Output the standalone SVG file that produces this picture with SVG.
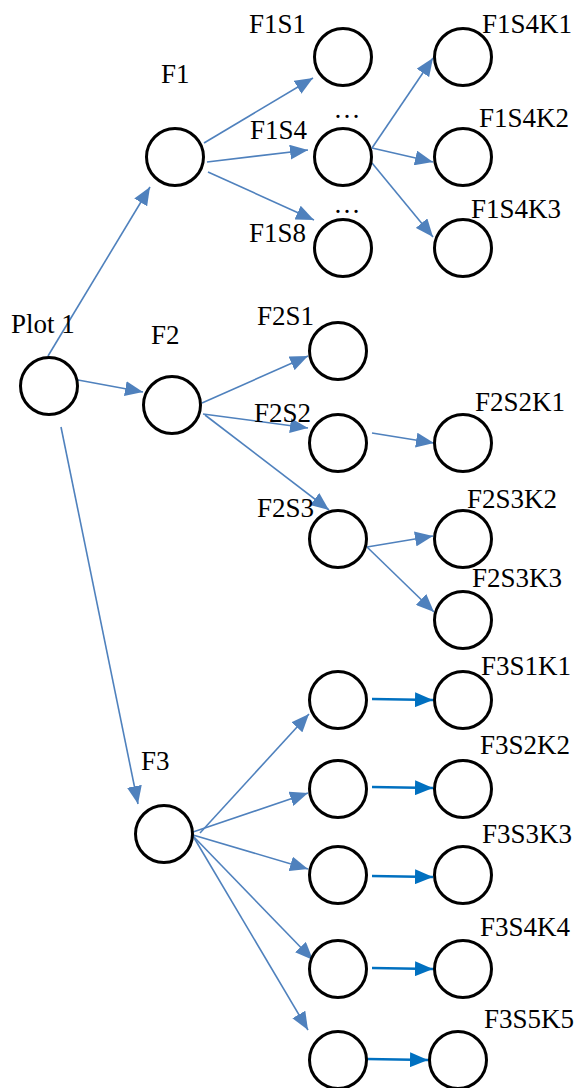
<svg xmlns="http://www.w3.org/2000/svg" width="579" height="1088" viewBox="0 0 579 1088" font-family="Liberation Serif, Times New Roman, serif">
<style>
.n{fill:#fff;stroke:#000;stroke-width:3}
.t{font-size:27px;fill:#000}
.c{stroke:#4f81bd;stroke-width:1.6;fill:none;marker-end:url(#a)}
.d{stroke:#0070c0;stroke-width:2.6;fill:none;marker-end:url(#b)}
</style>
<defs>
<marker id="a" markerUnits="userSpaceOnUse" markerWidth="19" markerHeight="15" refX="18" refY="7.5" orient="auto"><path d="M0,0 L18,7.5 L0,15 z" fill="#4f81bd"/></marker>
<marker id="b" markerUnits="userSpaceOnUse" markerWidth="19" markerHeight="15" refX="18" refY="7.5" orient="auto"><path d="M0,0 L18,7.5 L0,15 z" fill="#0070c0"/></marker>
</defs>
<rect width="579" height="1088" fill="#fff"/>
<g id="connectors">
<line class="c" x1="48" y1="356" x2="150" y2="187"/>
<line class="c" x1="78" y1="380" x2="143" y2="392"/>
<line class="c" x1="61" y1="427" x2="138" y2="804"/>
<line class="c" x1="204" y1="143" x2="313" y2="78"/>
<line class="c" x1="207" y1="162" x2="308" y2="150"/>
<line class="c" x1="208" y1="172" x2="314" y2="220"/>
<line class="c" x1="372" y1="148" x2="433" y2="58"/>
<line class="c" x1="372" y1="148" x2="433" y2="162"/>
<line class="c" x1="372" y1="163" x2="433" y2="237"/>
<line class="c" x1="202" y1="403" x2="308" y2="356"/>
<line class="c" x1="203" y1="414" x2="308" y2="428"/>
<line class="c" x1="205" y1="415" x2="329" y2="510"/>
<line class="c" x1="372" y1="433" x2="434" y2="443"/>
<line class="c" x1="367" y1="547" x2="433" y2="536"/>
<line class="c" x1="367" y1="547" x2="434" y2="612"/>
<line class="c" x1="200" y1="833" x2="309" y2="714"/>
<line class="c" x1="193" y1="832" x2="308" y2="793"/>
<line class="c" x1="193" y1="835" x2="308" y2="869"/>
<line class="c" x1="193" y1="836" x2="313" y2="960"/>
<line class="c" x1="193" y1="836" x2="308" y2="1030"/>
<line class="d" x1="372" y1="699" x2="433" y2="700"/>
<line class="d" x1="372" y1="787" x2="433" y2="788"/>
<line class="d" x1="372" y1="876" x2="433" y2="877"/>
<line class="d" x1="372" y1="968" x2="433" y2="969"/>
<line class="d" x1="367" y1="1059" x2="428" y2="1060"/>
</g>
<g id="plot1"><circle class="n" cx="49" cy="386" r="28.5"/><text class="t" x="11" y="333">Plot 1</text></g>
<g id="f1"><circle class="n" cx="175" cy="157" r="28.5"/><text class="t" x="161" y="83">F1</text></g>
<g id="f2"><circle class="n" cx="172" cy="405" r="28.5"/><text class="t" x="151" y="344">F2</text></g>
<g id="f3"><circle class="n" cx="164" cy="834" r="28.5"/><text class="t" x="141" y="770">F3</text></g>
<g id="f1s1"><circle class="n" cx="343" cy="57" r="28.5"/><text class="t" x="249" y="33">F1S1</text></g>
<g id="f1s4"><circle class="n" cx="343" cy="157" r="28.5"/><text class="t" x="250" y="139">F1S4</text><text class="t" x="347" y="118" text-anchor="middle">…</text></g>
<g id="f1s8"><circle class="n" cx="343" cy="248" r="28.5"/><text class="t" x="249" y="242">F1S8</text><text class="t" x="347" y="213" text-anchor="middle">…</text></g>
<g id="f1s4k1"><circle class="n" cx="463" cy="57" r="28.5"/><text class="t" x="482" y="33">F1S4K1</text></g>
<g id="f1s4k2"><circle class="n" cx="463" cy="157" r="28.5"/><text class="t" x="479" y="127">F1S4K2</text></g>
<g id="f1s4k3"><circle class="n" cx="463" cy="248" r="28.5"/><text class="t" x="471" y="218">F1S4K3</text></g>
<g id="f2s1"><circle class="n" cx="338" cy="351" r="28.5"/><text class="t" x="257" y="325">F2S1</text></g>
<g id="f2s2"><circle class="n" cx="338" cy="443" r="28.5"/><text class="t" x="254" y="422">F2S2</text></g>
<g id="f2s3"><circle class="n" cx="338" cy="539" r="28.5"/><text class="t" x="257" y="517">F2S3</text></g>
<g id="f2s2k1"><circle class="n" cx="463" cy="443" r="28.5"/><text class="t" x="475" y="411">F2S2K1</text></g>
<g id="f2s3k2"><circle class="n" cx="463" cy="539" r="28.5"/><text class="t" x="467" y="508">F2S3K2</text></g>
<g id="f2s3k3"><circle class="n" cx="463" cy="620" r="28.5"/><text class="t" x="472" y="587">F2S3K3</text></g>
<g id="f3s1"><circle class="n" cx="338" cy="700" r="28.5"/></g>
<g id="f3s2"><circle class="n" cx="338" cy="789" r="28.5"/></g>
<g id="f3s3"><circle class="n" cx="338" cy="875" r="28.5"/></g>
<g id="f3s4"><circle class="n" cx="338" cy="969" r="28.5"/></g>
<g id="f3s5"><circle class="n" cx="338" cy="1060" r="28.5"/></g>
<g id="f3s1k1"><circle class="n" cx="463" cy="700" r="28.5"/><text class="t" x="481" y="675">F3S1K1</text></g>
<g id="f3s2k2"><circle class="n" cx="463" cy="789" r="28.5"/><text class="t" x="480" y="754">F3S2K2</text></g>
<g id="f3s3k3"><circle class="n" cx="463" cy="875" r="28.5"/><text class="t" x="482" y="843">F3S3K3</text></g>
<g id="f3s4k4"><circle class="n" cx="463" cy="969" r="28.5"/><text class="t" x="480" y="936">F3S4K4</text></g>
<g id="f3s5k5"><circle class="n" cx="458" cy="1060" r="28.5"/><text class="t" x="484" y="1028">F3S5K5</text></g>
</svg>
